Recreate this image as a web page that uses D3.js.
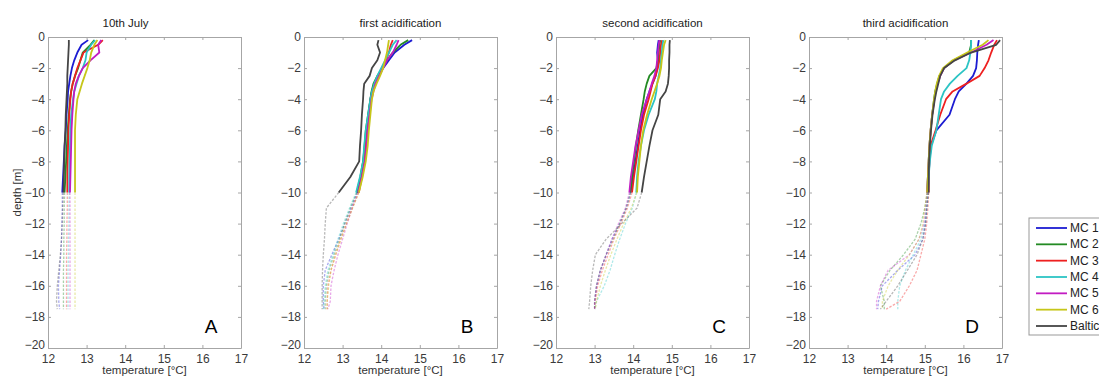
<!DOCTYPE html>
<html>
<head>
<meta charset="utf-8">
<script src="https://cdn.jsdelivr.net/npm/d3@7"></script>
<style>
  body { margin: 0; background: #fff; }
  svg { display: block; font-family: "Liberation Sans", Arial, sans-serif; }
</style>
</head>
<body>
<svg id="chart" width="1099" height="378"></svg>
<script>
// series + labels
const seriesNames = ["MC 1", "MC 2", "MC 3", "MC 4", "MC 5", "MC 6", "Baltic Sea"]
const seriesColors = ["#1c1cd2", "#238a23", "#ee2020", "#2cc4c4", "#c21cc2", "#c6c619", "#454545"]
const panelTitles = ["10th July", "first acidification", "second acidification", "third acidification"]
const panelLetters = ["A", "B", "C", "D"]
const xTicks = [12, 13, 14, 15, 16, 17]
const yTicks = [0, -2, -4, -6, -8, -10, -12, -14, -16, -18, -20]

// depth levels [m]; everything below -10 m is drawn faint
const depths = [-0.2, -0.5, -1, -1.5, -2, -2.5, -3, -3.5, -4, -5, -6, -7, -8, -9, -10,
  -11, -12, -13, -14, -15, -16, -17, -17.5]

// temperature [°C] per series (MC1..MC6, Baltic) at each depth level
const tempsJuly = [
  [13.04, 12.87, 12.76, 12.68, 12.62, 12.58, 12.55, 12.52, 12.51, 12.48, 12.46, 12.43, 12.41, 12.39, 12.37, 12.37, 12.36, 12.35, 12.33, 12.30, 12.27, 12.28, 12.30],
  [13.20, 13.10, 12.90, 12.84, 12.78, 12.70, 12.64, 12.60, 12.57, 12.54, 12.51, 12.49, 12.47, 12.45, 12.43, 12.42, 12.42, 12.41, 12.41, 12.40, 12.40, 12.40, 12.40],
  [13.42, 13.30, 12.92, 12.84, 12.76, 12.70, 12.64, 12.60, 12.58, 12.55, 12.53, 12.52, 12.51, 12.50, 12.50, 12.50, 12.49, 12.49, 12.48, 12.48, 12.48, 12.48, 12.48],
  [13.22, 13.12, 13.00, 12.97, 12.90, 12.80, 12.74, 12.68, 12.65, 12.60, 12.58, 12.57, 12.56, 12.55, 12.55, 12.54, 12.54, 12.53, 12.53, 12.52, 12.52, 12.52, 12.52],
  [13.38, 13.30, 13.33, 13.10, 12.90, 12.80, 12.72, 12.68, 12.66, 12.63, 12.61, 12.60, 12.59, 12.58, 12.57, 12.57, 12.57, 12.57, 12.57, 12.57, 12.57, 12.57, 12.57],
  [13.28, 13.20, 13.12, 13.08, 13.02, 12.95, 12.88, 12.82, 12.76, 12.72, 12.70, 12.70, 12.70, 12.70, 12.70, 12.70, 12.70, 12.70, 12.70, 12.70, 12.70, 12.70, 12.70],
  [12.54, 12.54, 12.53, 12.52, 12.51, 12.50, 12.50, 12.49, 12.48, 12.46, 12.45, 12.43, 12.42, 12.41, 12.40, 12.38, 12.37, 12.35, 12.32, 12.28, 12.24, 12.22, 12.24]
]
const tempsFirst = [
  [14.80, 14.60, 14.35, 14.20, 14.05, 13.92, 13.82, 13.76, 13.72, 13.67, 13.62, 13.58, 13.54, 13.47, 13.38, 13.22, 13.06, 12.90, 12.72, 12.55, 12.50, 12.50, 12.52],
  [14.70, 14.50, 14.30, 14.15, 14.02, 13.90, 13.80, 13.75, 13.72, 13.66, 13.60, 13.57, 13.53, 13.46, 13.37, 13.20, 13.05, 12.92, 12.78, 12.65, 12.58, 12.55, 12.55],
  [14.30, 14.25, 14.20, 14.12, 14.03, 13.92, 13.83, 13.77, 13.73, 13.68, 13.64, 13.60, 13.56, 13.50, 13.42, 13.25, 13.10, 12.95, 12.82, 12.70, 12.62, 12.60, 12.60],
  [14.40, 14.30, 14.20, 14.10, 14.00, 13.90, 13.82, 13.76, 13.72, 13.66, 13.60, 13.56, 13.53, 13.45, 13.35, 13.18, 13.02, 12.88, 12.75, 12.62, 12.55, 12.52, 12.50],
  [14.45, 14.40, 14.30, 14.15, 14.05, 13.95, 13.85, 13.80, 13.75, 13.70, 13.65, 13.62, 13.58, 13.50, 13.40, 13.25, 13.12, 13.00, 12.88, 12.78, 12.70, 12.68, 12.62],
  [14.20, 14.18, 14.15, 14.10, 14.05, 13.97, 13.88, 13.80, 13.76, 13.72, 13.68, 13.65, 13.60, 13.52, 13.42, 13.26, 13.10, 12.96, 12.82, 12.70, 12.64, 12.60, 12.60],
  [13.93, 13.90, 13.97, 13.90, 13.76, 13.70, 13.56, 13.54, 13.53, 13.50, 13.48, 13.45, 13.43, 13.20, 12.90, 12.58, 12.55, 12.53, 12.50, 12.48, 12.47, 12.47, 12.47]
]
const tempsSecond = [
  [14.66, 14.64, 14.62, 14.64, 14.62, 14.58, 14.50, 14.42, 14.35, 14.25, 14.18, 14.12, 14.06, 14.00, 13.93, 13.82, 13.65, 13.45, 13.30, 13.15, 13.05, 13.00, 13.00],
  [14.70, 14.68, 14.66, 14.64, 14.60, 14.42, 14.35, 14.30, 14.27, 14.20, 14.13, 14.07, 14.02, 13.97, 13.93, 13.82, 13.65, 13.48, 13.30, 13.15, 13.05, 13.00, 13.00],
  [14.75, 14.72, 14.70, 14.68, 14.64, 14.58, 14.50, 14.45, 14.40, 14.28, 14.20, 14.14, 14.08, 14.02, 13.97, 13.85, 13.68, 13.50, 13.35, 13.20, 13.08, 13.02, 13.00],
  [14.78, 14.76, 14.74, 14.72, 14.70, 14.66, 14.62, 14.60, 14.56, 14.40, 14.28, 14.20, 14.14, 14.10, 14.08, 13.98, 13.80, 13.65, 13.52, 13.40, 13.25, 13.05, 13.00],
  [14.68, 14.66, 14.64, 14.62, 14.60, 14.55, 14.48, 14.42, 14.35, 14.22, 14.14, 14.06, 14.00, 13.94, 13.90, 13.80, 13.62, 13.45, 13.30, 13.15, 13.05, 13.00, 13.00],
  [14.84, 14.80, 14.77, 14.74, 14.72, 14.68, 14.62, 14.55, 14.48, 14.36, 14.26, 14.20, 14.16, 14.12, 14.10, 13.95, 13.75, 13.58, 13.42, 13.28, 13.15, 13.05, 13.02],
  [14.95, 14.94, 14.94, 14.93, 14.93, 14.92, 14.90, 14.84, 14.70, 14.65, 14.50, 14.42, 14.35, 14.28, 14.22, 14.10, 13.70, 13.30, 13.02, 12.95, 12.90, 12.87, 12.85]
]
const tempsThird = [
  [16.40, 16.38, 16.36, 16.35, 16.33, 16.25, 16.08, 15.88, 15.78, 15.64, 15.30, 15.16, 15.12, 15.10, 15.08, 15.05, 15.02, 14.95, 14.75, 14.30, 13.90, 13.80, 13.78],
  [16.20, 16.20, 16.15, 15.75, 15.50, 15.38, 15.32, 15.27, 15.24, 15.19, 15.15, 15.12, 15.10, 15.08, 15.06, 15.00, 14.90, 14.75, 14.45, 14.10, 13.85, 13.95, 13.95],
  [16.87, 16.80, 16.72, 16.65, 16.55, 16.42, 16.08, 15.72, 15.55, 15.40, 15.28, 15.15, 15.12, 15.10, 15.10, 15.08, 15.05, 15.00, 14.90, 14.80, 14.60, 14.35, 14.00],
  [16.20, 16.20, 16.18, 16.15, 16.08, 15.85, 15.65, 15.50, 15.42, 15.36, 15.30, 15.18, 15.13, 15.10, 15.08, 15.05, 15.00, 14.90, 14.70, 14.50, 14.35, 14.30, 14.30],
  [16.78, 16.60, 16.20, 15.75, 15.50, 15.40, 15.33, 15.28, 15.25, 15.19, 15.15, 15.12, 15.10, 15.08, 15.06, 15.02, 14.98, 14.85, 14.60, 14.05, 13.85, 13.75, 13.75],
  [16.65, 16.50, 16.10, 15.72, 15.47, 15.37, 15.31, 15.27, 15.24, 15.19, 15.15, 15.12, 15.10, 15.08, 15.06, 15.00, 14.95, 14.85, 14.60, 14.30, 14.05, 13.90, 13.90],
  [16.95, 16.85, 16.20, 15.78, 15.50, 15.40, 15.35, 15.30, 15.26, 15.20, 15.16, 15.13, 15.11, 15.10, 15.10, 15.05, 15.02, 14.95, 14.80, 14.55, 14.30, 14.00, 13.85]
]
const panelTemps = [tempsJuly, tempsFirst, tempsSecond, tempsThird]

// layout
const panelLeft = [48, 304, 556, 809]
const panelWidth = 193
const plotTop = 37
const plotBottom = 348
const solidCount = depths.indexOf(-10) + 1

const svg = d3.select("#chart")

const y = d3.scaleLinear().domain([-20, 0]).range([plotBottom, plotTop])

function styleAxis(g) {
  g.select(".domain").attr("stroke", "#a6a6a6")
  g.selectAll(".tick line").attr("stroke", "#a6a6a6")
  g.selectAll(".tick text").attr("fill", "#3a3a3a").attr("font-size", 12)
}

panelTemps.forEach((temps, p) => {
  const left = panelLeft[p]
  const x = d3.scaleLinear().domain([12, 17]).range([left, left + panelWidth])
  const g = svg.append("g")

  const line = d3.line()
    .x(d => x(d[1]))
    .y(d => y(d[0]))

  // faint lower part first, then the solid upper profiles
  temps.forEach((row, s) => {
    const pts = depths.map((dep, i) => [dep, row[i]])
    g.append("path")
      .attr("d", line(pts.slice(solidCount - 1)))
      .attr("fill", "none")
      .attr("stroke", seriesColors[s])
      .attr("stroke-width", 1.3)
      .attr("stroke-opacity", 0.38)
      .attr("stroke-dasharray", "2.5,1.5")
  })
  temps.forEach((row, s) => {
    const pts = depths.map((dep, i) => [dep, row[i]])
    g.append("path")
      .attr("d", line(pts.slice(0, solidCount)))
      .attr("fill", "none")
      .attr("stroke", seriesColors[s])
      .attr("stroke-width", 1.8)
      .attr("stroke-linejoin", "round")
  })

  g.append("g")
    .attr("transform", `translate(0,${plotBottom})`)
    .call(d3.axisBottom(x).tickValues(xTicks).tickFormat(d3.format("d"))
      .tickSizeInner(-3).tickSizeOuter(0).tickPadding(6))
    .call(styleAxis)
  g.append("g")
    .attr("transform", `translate(0,${plotTop})`)
    .call(d3.axisTop(x).tickValues(xTicks).tickSizeInner(-3).tickSizeOuter(0).tickFormat(""))
    .call(styleAxis)
  g.append("g")
    .attr("transform", `translate(${left},0)`)
    .call(d3.axisLeft(y).tickValues(yTicks).tickSizeInner(-3).tickSizeOuter(0).tickPadding(3))
    .call(styleAxis)
    .call(a => a.selectAll(".tick text").filter(d => d === -20).attr("dy", "0.05em"))
  g.append("g")
    .attr("transform", `translate(${left + panelWidth},0)`)
    .call(d3.axisRight(y).tickValues(yTicks).tickSizeInner(-3).tickSizeOuter(0).tickFormat(""))
    .call(styleAxis)

  g.append("text")
    .attr("x", left + panelWidth / 2 - (p === 0 ? 19 : 0))
    .attr("y", 27)
    .attr("text-anchor", "middle")
    .attr("font-size", 11.5)
    .attr("fill", "#222")
    .text(panelTitles[p])

  g.append("text")
    .attr("x", left + panelWidth / 2)
    .attr("y", 374)
    .attr("text-anchor", "middle")
    .attr("font-size", 11.5)
    .attr("fill", "#333")
    .text("temperature [°C]")

  g.append("text")
    .attr("x", left + panelWidth - 30)
    .attr("y", 333)
    .attr("text-anchor", "middle")
    .attr("font-size", 19)
    .attr("fill", "#000")
    .text(panelLetters[p])
})

svg.append("text")
  .attr("transform", `translate(17,${(plotTop + plotBottom) / 2}) rotate(-90)`)
  .attr("text-anchor", "middle")
  .attr("dominant-baseline", "central")
  .attr("font-size", 11.5)
  .attr("fill", "#333")
  .text("depth [m]")

// legend (box runs past the right edge, as in the source figure)
const legend = svg.append("g").attr("transform", "translate(1029,218)")
legend.append("rect")
  .attr("width", 120).attr("height", 117)
  .attr("fill", "#fff").attr("stroke", "#999")

const legendY = d3.scalePoint().domain(seriesNames).range([10, 108])
seriesNames.forEach((name, s) => {
  legend.append("line")
    .attr("x1", 7).attr("x2", 38)
    .attr("y1", legendY(name)).attr("y2", legendY(name))
    .attr("stroke", seriesColors[s]).attr("stroke-width", 1.8)
  legend.append("text")
    .attr("x", 41).attr("y", legendY(name))
    .attr("dominant-baseline", "central")
    .attr("font-size", 12)
    .attr("fill", "#222")
    .text(name)
})
</script>
</body>
</html>
